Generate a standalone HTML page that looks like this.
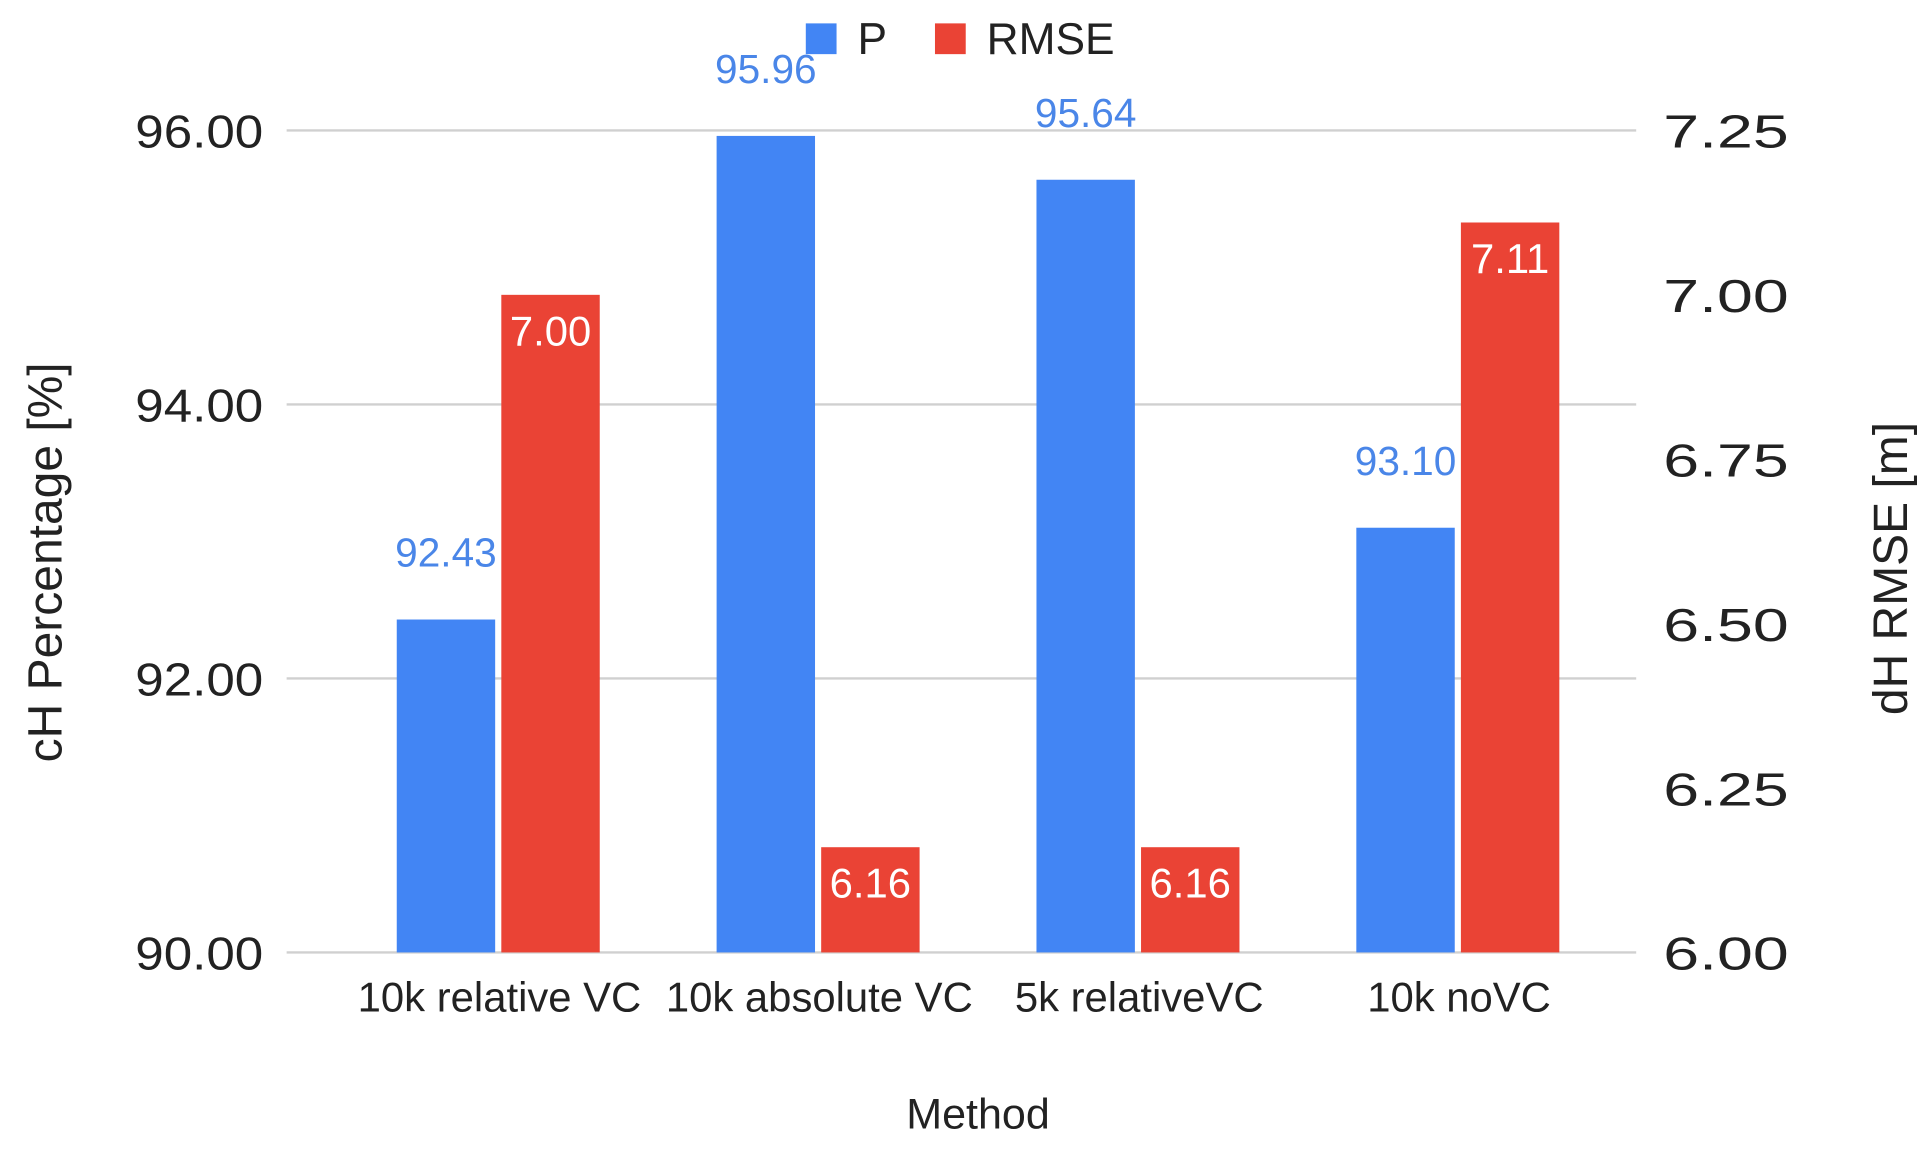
<!DOCTYPE html>
<html><head><meta charset="utf-8"><style>
html,body{margin:0;padding:0;background:#fff;}
svg{display:block;font-family:"Liberation Sans",Arial,sans-serif;}
</style></head><body>
<svg id="chart" width="1929" height="1153" viewBox="0 0 1568 937" preserveAspectRatio="none" xmlns="http://www.w3.org/2000/svg">
<g id="grid"></g><g id="bars"></g><g id="labels"></g>
<g>
<rect x="655" y="19" width="25" height="25" fill="#4285f4"/>
<text x="697" y="44" font-size="36" fill="#222">P</text>
<rect x="760" y="19" width="25" height="25" fill="#ea4335"/>
<text x="802" y="44" font-size="36" fill="#222">RMSE</text>
</g>
<text transform="translate(50,457) rotate(-90)" text-anchor="middle" font-size="39" fill="#222">cH Percentage [%]</text>
<text transform="translate(1550,462) rotate(-90)" text-anchor="middle" font-size="39" fill="#222">dH RMSE [m]</text>
<text x="795" y="917" text-anchor="middle" font-size="35" fill="#222">Method</text>
</svg>
<script>
const categories = ["10k relative VC","10k absolute VC","5k relativeVC","10k noVC"];
const pValues = [92.43, 95.96, 95.64, 93.10];
const rmseValues = [7.00, 6.16, 6.16, 7.11];
const leftTicks = [90, 92, 94, 96];
const rightTicks = [6.00, 6.25, 6.50, 6.75, 7.00, 7.25];

const NS = "http://www.w3.org/2000/svg";
const plotTop = 106, plotBottom = 774, plotLeft = 233, plotRight = 1330;
const yL = v => plotBottom - (v - 90) / 6 * (plotBottom - plotTop);
const yR = v => plotBottom - (v - 6) / 1.25 * (plotBottom - plotTop);
const xC = i => 405 + 260 * i;
const barW = 80, gap = 5;

function mk(tag, attrs, parent, text) {
  const e = document.createElementNS(NS, tag);
  for (const k in attrs) e.setAttribute(k, attrs[k]);
  if (text !== undefined) e.textContent = text;
  parent.appendChild(e);
  return e;
}
const grid = document.getElementById('grid');
const bars = document.getElementById('bars');
const labels = document.getElementById('labels');

leftTicks.forEach(t => {
  const y = yL(t);
  const l = mk('line', {x1: plotLeft, x2: plotRight, y1: y, y2: y, stroke: '#d0d0d0', 'stroke-width': 2}, grid);
  
  
  const tx = mk('text', {x: 110, y: y + 14, 'font-size': 38, fill: '#222', textLength: 104, lengthAdjust: 'spacingAndGlyphs'}, labels, t.toFixed(2));
  
  
});
rightTicks.forEach(t => {
  const y = yR(t);
  const tx = mk('text', {x: 1352, y: y + 14, 'font-size': 38, fill: '#222', textLength: 102, lengthAdjust: 'spacingAndGlyphs'}, labels, t.toFixed(2));
  
  
});

categories.forEach((c, i) => {
  const cx = xC(i);
  const py = yL(pValues[i]);
  const bp = mk('rect', {x: cx - gap / 2 - barW, y: py, width: barW, height: plotBottom - py, fill: '#4285f4'}, bars);
  
  
  const ry = yR(rmseValues[i]);
  const br = mk('rect', {x: cx + gap / 2, y: ry, width: barW, height: plotBottom - ry, fill: '#ea4335'}, bars);
  
  
  const lp = mk('text', {x: cx - gap / 2 - barW / 2, y: py - 43, 'text-anchor': 'middle', 'font-size': 33, fill: '#4a86e8'}, labels, pValues[i].toFixed(2));
  
  
  const lr = mk('text', {x: cx + gap / 2 + barW / 2, y: ry + 41, 'text-anchor': 'middle', 'font-size': 34, fill: '#fff'}, labels, rmseValues[i].toFixed(2));
  
  
  const cl = mk('text', {x: cx + 1, y: 822, 'text-anchor': 'middle', 'font-size': 34, fill: '#222'}, labels, c);
  
  
});
</script>
</body></html>
